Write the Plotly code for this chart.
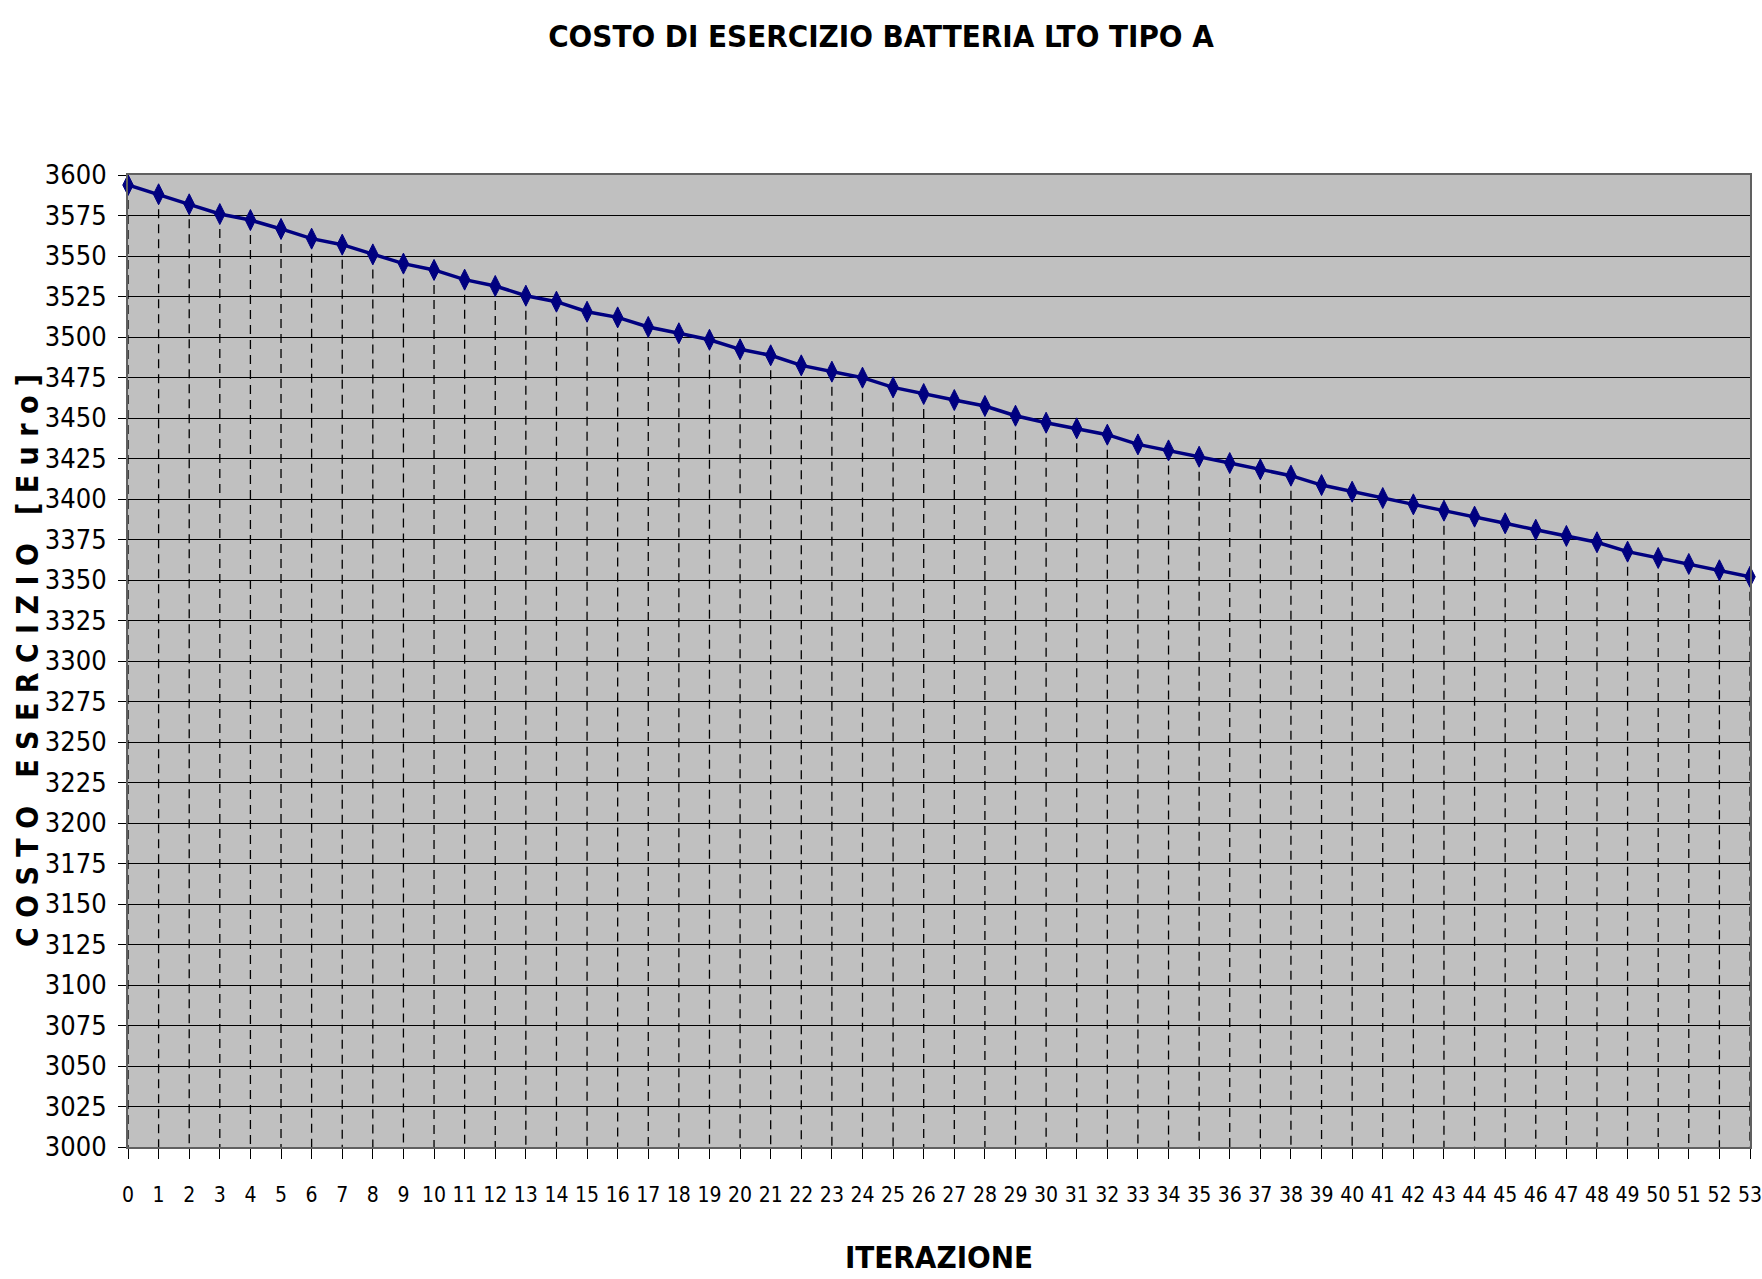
import plotly.graph_objects as go

# ---------------- data ----------------
iterazioni = list(range(54))
costo = [
    3593.8, 3588.1, 3581.9, 3575.9, 3572.2, 3566.7, 3560.7, 3557.0, 3551.0, 3545.3,
    3541.4, 3535.4, 3531.5, 3525.5, 3521.8, 3515.6, 3512.1, 3506.2, 3502.3, 3498.3,
    3492.4, 3488.7, 3482.5, 3478.6, 3474.9, 3468.9, 3464.8, 3461.1, 3457.4, 3451.4,
    3447.1, 3443.6, 3439.7, 3433.7, 3430.0, 3426.1, 3422.2, 3418.3, 3414.4, 3408.6,
    3404.5, 3400.6, 3396.7, 3392.8, 3389.1, 3385.0, 3381.0, 3377.2, 3373.3, 3367.5,
    3363.6, 3359.9, 3356.0, 3352.0,
]
y_min, y_max, y_step = 3000, 3600, 25
x_tick_labels = [str(i) for i in iterazioni]

titolo = "COSTO DI ESERCIZIO BATTERIA LTO TIPO A"
titolo_y = "C O S T O   E S E R C I Z I O   [ E u r o ]"
titolo_x = "ITERAZIONE"

FONT = "Liberation Sans Narrow, Arial Narrow, DejaVu Sans Condensed, sans-serif"

W, H = 1762, 1279
ML, MR, MT, MB = 128, 12, 175, 132

# drop lines from each point to the axis baseline
drop_x, drop_y = [], []
for xi, yi in zip(iterazioni, costo):
    drop_x += [xi, xi, None]
    drop_y += [yi, y_min, None]

fig = go.Figure()
fig.add_trace(go.Scatter(
    x=drop_x, y=drop_y, mode="lines",
    line=dict(color="black", width=1.3, dash="9px,6px"),
    hoverinfo="skip", showlegend=False,
))
fig.add_trace(go.Scatter(
    x=iterazioni, y=costo, mode="lines+markers",
    line=dict(color="#000080", width=3.5),
    marker=dict(symbol="diamond-tall", size=15, color="#000080",
                line=dict(color="#000080", width=1)),
    cliponaxis=False, showlegend=False, name="Costo",
))

fig.update_layout(
    width=W, height=H,
    margin=dict(l=ML, r=MR, t=MT, b=MB),
    paper_bgcolor="white",
    plot_bgcolor="#C0C0C0",
    font=dict(family=FONT, color="black"),
    title=dict(text="<b>" + titolo + "</b>", x=0.5, xanchor="center",
               y=1 - 36 / H, yanchor="middle",
               font=dict(family=FONT, size=31, color="black")),
    showlegend=False,
    annotations=[dict(
        text="<b>" + titolo_y + "</b>", textangle=-90,
        xref="paper", yref="paper", x=-(ML - 27) / (W - ML - MR), y=0.5,
        xanchor="center", yanchor="middle", showarrow=False,
        font=dict(family=FONT, size=30, color="black"),
    )],
)
fig.update_xaxes(
    range=[0, 53], tickmode="array", tickvals=iterazioni, ticktext=x_tick_labels,
    ticks="outside", ticklen=10, tickcolor="black", tickwidth=1,
    ticklabelstandoff=18, automargin=False, ticklabeloverflow="allow",
    tickfont=dict(family=FONT, size=21, color="black"),
    showgrid=False, zeroline=False,
    showline=True, linecolor="#606060", linewidth=2, mirror=True,
    title=dict(text="<b>" + titolo_x + "</b>", standoff=40,
               font=dict(family=FONT, size=31, color="black")),
)
fig.update_yaxes(
    range=[y_min, y_max], tickmode="linear", tick0=y_min, dtick=y_step,
    ticks="outside", ticklen=8, tickcolor="black", tickwidth=1,
    ticklabelstandoff=6, automargin=False, ticklabeloverflow="allow",
    tickfont=dict(family=FONT, size=27, color="black"),
    showgrid=True, gridcolor="black", gridwidth=1, zeroline=False,
    showline=True, linecolor="#606060", linewidth=2, mirror=True,
)

fig.write_html("out.html")
